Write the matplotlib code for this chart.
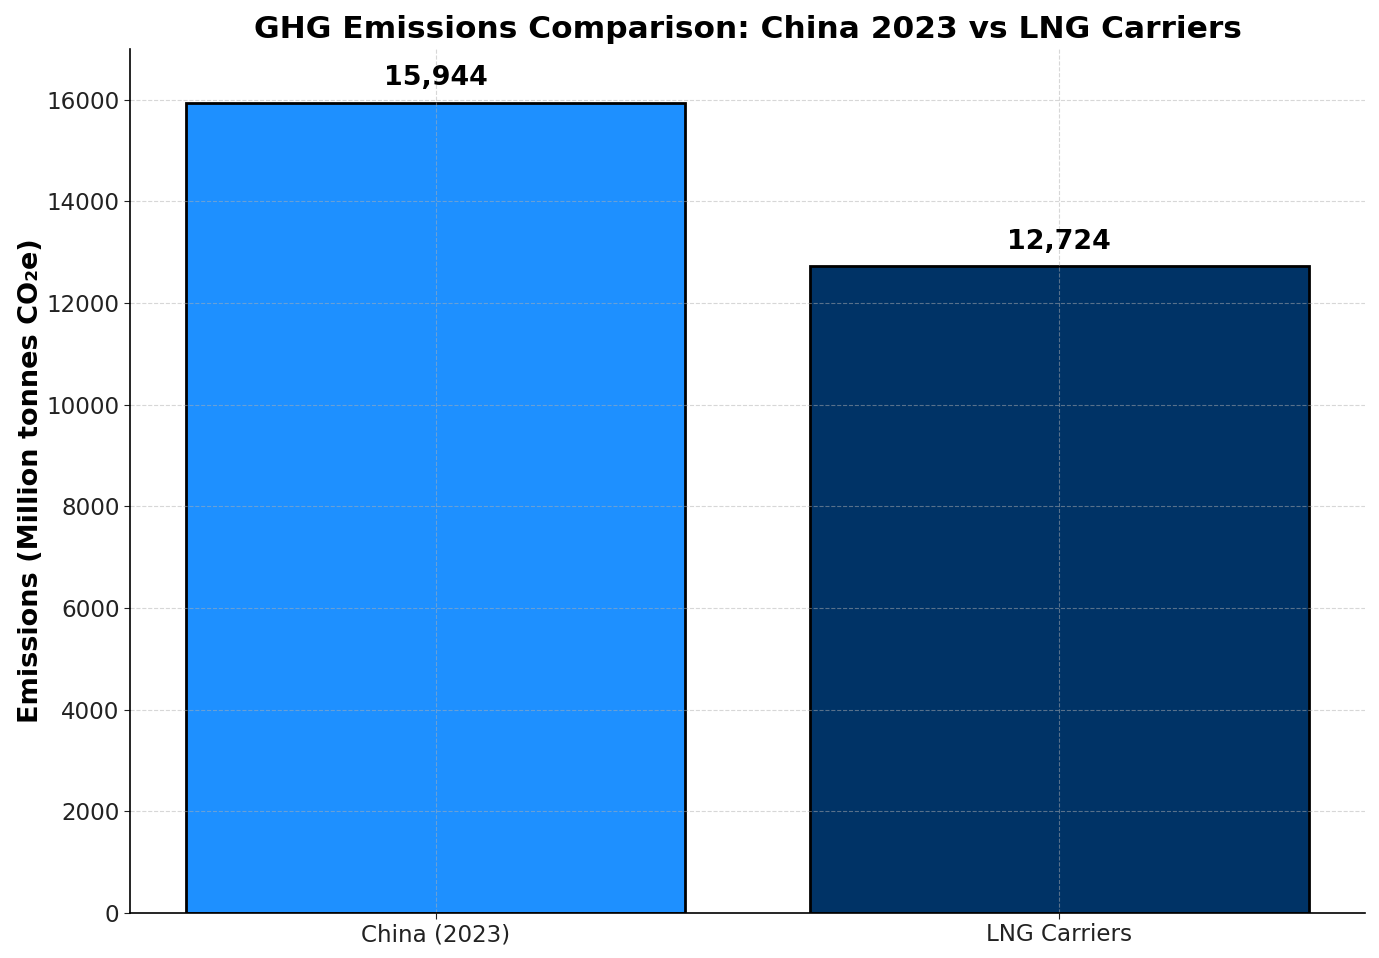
import matplotlib.pyplot as plt

# data
categories = ["China (2023)", "LNG Carriers"]
emissions = [15944, 12724]  # Million tonnes CO2e
bar_colors = ["#1E90FF", "#003366"]


def main():
    fig, ax = plt.subplots(figsize=(13.79, 9.58), dpi=100)
    fig.subplots_adjust(left=0.0943, right=0.9898, top=0.9489, bottom=0.047)

    bars = ax.bar(categories, emissions, color=bar_colors,
                  edgecolor="black", linewidth=2, width=0.8)

    for b, v in zip(bars, emissions):
        ax.text(b.get_x() + b.get_width()/2, v + 230, f"{v:,}",
                ha="center", va="bottom", fontsize=19.4, fontweight="bold")

    ax.set_ylim(0, 17000)
    ax.set_title("GHG Emissions Comparison: China 2023 vs LNG Carriers",
                 fontsize=22.5, fontweight="bold", pad=8)
    ax.set_ylabel("Emissions (Million tonnes CO₂e)", fontsize=19.5,
                  fontweight="bold", labelpad=2)
    ax.tick_params(labelsize=16.6, colors="#222222", length=4)
    ax.grid(True, linestyle="--", alpha=0.5)
    ax.spines["top"].set_visible(False)
    ax.spines["right"].set_visible(False)
    ax.spines["left"].set_linewidth(1.2)
    ax.spines["bottom"].set_linewidth(1.2)

    fig.savefig("out.png", dpi=100)


if __name__ == "__main__":
    main()
